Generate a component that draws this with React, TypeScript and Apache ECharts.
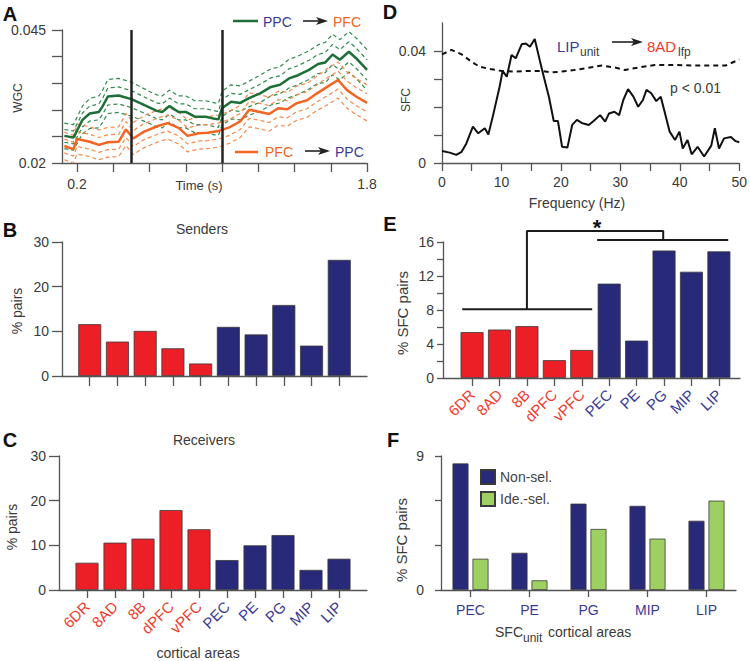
import React, { useEffect, useRef } from "react";
import * as echarts from "echarts";

const FONT = "'Liberation Sans', Arial, Helvetica, sans-serif";
const INK = "#3a3a3a";
const AXIS = "#555555";
const RED = "#ec1f26";
const BLUE = "#29297a";
const RED_TEXT = "#ef3a2b";
const BLUE_TEXT = "#3b3a96";
const GREEN = "#1d6e37";
const GREEN_DASH = "#2f8a4e";
const ORANGE = "#f26522";
const ORANGE_DASH = "#f5894a";
const LIME = "#9dd060";

// ---------- Panel A : WGC over time ----------
const greenTime = [0.13, 0.18, 0.23, 0.27, 0.32, 0.34, 0.37, 0.43, 0.5, 0.59, 0.64, 0.67, 0.71, 0.76, 0.8, 0.85, 0.91, 0.96, 0.98, 1.0, 1.05, 1.1, 1.15, 1.21, 1.27, 1.32, 1.37, 1.42, 1.48, 1.53, 1.57, 1.61, 1.65, 1.7, 1.74, 1.8];
const greenWgc = [0.0251, 0.0248, 0.0281, 0.0293, 0.0296, 0.0306, 0.0325, 0.0327, 0.032, 0.0306, 0.0298, 0.0296, 0.0307, 0.0296, 0.0296, 0.0287, 0.0287, 0.0283, 0.0282, 0.0303, 0.0315, 0.0313, 0.0322, 0.0331, 0.0343, 0.0347, 0.0359, 0.0365, 0.0375, 0.0386, 0.0389, 0.0404, 0.0394, 0.0409, 0.0397, 0.0375];
const greenSem = [0.0012, 0.0012, 0.0013, 0.0014, 0.0015, 0.0015, 0.0016, 0.0016, 0.0016, 0.0015, 0.0015, 0.0015, 0.0015, 0.0015, 0.0015, 0.0015, 0.0015, 0.0015, 0.0015, 0.0016, 0.0016, 0.0016, 0.0016, 0.0017, 0.0017, 0.0017, 0.0018, 0.0018, 0.0018, 0.0018, 0.0019, 0.0019, 0.0019, 0.0019, 0.0019, 0.0019];
const orangeTime = [0.13, 0.18, 0.2, 0.27, 0.32, 0.37, 0.43, 0.47, 0.51, 0.57, 0.65, 0.7, 0.76, 0.81, 0.87, 0.92, 0.98, 1.04, 1.1, 1.15, 1.21, 1.26, 1.31, 1.36, 1.41, 1.47, 1.52, 1.58, 1.64, 1.69, 1.74, 1.8];
const orangeWgc = [0.0232, 0.0226, 0.0245, 0.024, 0.0234, 0.0239, 0.024, 0.0263, 0.0246, 0.0259, 0.027, 0.0275, 0.0266, 0.0251, 0.0256, 0.0257, 0.026, 0.0267, 0.0278, 0.03, 0.0296, 0.0292, 0.0303, 0.0301, 0.0312, 0.0318, 0.033, 0.0343, 0.0356, 0.0337, 0.0325, 0.0313];
const orangeSem = [0.0013, 0.0013, 0.0014, 0.0014, 0.0014, 0.0014, 0.0014, 0.0015, 0.0015, 0.0015, 0.0015, 0.0015, 0.0015, 0.0015, 0.0015, 0.0015, 0.0015, 0.0015, 0.0015, 0.0016, 0.0016, 0.0016, 0.0016, 0.0016, 0.0016, 0.0016, 0.0016, 0.0017, 0.0017, 0.0017, 0.0017, 0.0017];
const cueTimes = [0.5, 1.0];
const timeTicks = [0.2, 0.4, 0.6, 0.8, 1.0, 1.2, 1.4, 1.6, 1.8];
const timeLabels = [0.2, 1.8];
const wgcTicks = [0.02, 0.025, 0.03, 0.035, 0.04, 0.045];
const wgcLabels = [0.02, 0.045];

// ---------- Panel D : SFC spectrum ----------
const sfcFreq = [0, 1.3, 2.4, 3.3, 4.1, 5.2, 6.1, 7.2, 7.8, 8.6, 9.7, 10.2, 10.9, 11.7, 12.4, 13.4, 14.1, 14.8, 15.6, 16.5, 17.4, 18, 18.8, 19.5, 20.2, 21.1, 21.9, 22.7, 23.5, 24.7, 25.5, 26.6, 27.45, 28.1, 29, 29.8, 30.5, 31.3, 32.2, 33, 33.8, 34.4, 35.2, 36.05, 36.8, 37.45, 38.3, 39.2, 39.95, 40.5, 41.3, 42, 43, 44.1, 45.3, 45.9, 46.6, 47.45, 48.6, 49.4, 50];
const sfcValue = [0.0043, 0.0037, 0.0029, 0.004, 0.007, 0.013, 0.0106, 0.0124, 0.0102, 0.0171, 0.0273, 0.0329, 0.0308, 0.0386, 0.0374, 0.0424, 0.0427, 0.0415, 0.0443, 0.0362, 0.0285, 0.0235, 0.015, 0.015, 0.0058, 0.0055, 0.0136, 0.0154, 0.0143, 0.0136, 0.015, 0.0171, 0.0148, 0.0177, 0.0183, 0.0171, 0.0225, 0.0264, 0.0237, 0.0201, 0.0225, 0.0261, 0.0249, 0.0221, 0.0237, 0.0183, 0.0112, 0.0082, 0.0112, 0.0052, 0.0082, 0.0031, 0.0058, 0.0023, 0.0062, 0.0124, 0.0052, 0.0088, 0.0093, 0.0078, 0.0074];
const sigFreq = [0, 1.6, 3.3, 4.95, 6.3, 8, 9.95, 12.2, 14.4, 16.6, 18.3, 19.95, 22.2, 24.4, 26.9, 29.1, 30.8, 33, 35.8, 39.1, 42.4, 45.8, 47.7, 49.4, 50];
const sigValue = [0.0388, 0.0404, 0.0388, 0.0362, 0.0344, 0.0336, 0.0329, 0.0326, 0.0329, 0.0329, 0.0324, 0.0326, 0.0332, 0.0339, 0.0348, 0.0341, 0.0332, 0.0341, 0.035, 0.035, 0.0348, 0.0348, 0.0348, 0.0364, 0.037];
const freqTicks = [0, 5, 10, 15, 20, 25, 30, 35, 40, 45, 50];
const freqLabels = [0, 10, 20, 30, 40, 50];
const sfcTicks = [0, 0.01, 0.02, 0.03, 0.04];
const sfcLabels = [0, 0.04];

// ---------- Panels B, C, E : cortical areas ----------
const areas = ["6DR", "8AD", "8B", "dPFC", "vPFC", "PEC", "PE", "PG", "MIP", "LIP"];
const areaLobe = ["PFC", "PFC", "PFC", "PFC", "PFC", "PPC", "PPC", "PPC", "PPC", "PPC"];
const areaPos = [1, 2, 3, 4, 5, 6, 7, 8, 9, 10];
const senders = [11.6, 7.7, 10.1, 6.2, 2.8, 11.0, 9.3, 15.9, 6.8, 26.0];
const receivers = [6.1, 10.6, 11.5, 17.9, 13.6, 6.7, 10.0, 12.3, 4.5, 7.0];
const sfcPairs = [5.4, 5.7, 6.1, 2.1, 3.3, 11.1, 4.4, 15.0, 12.5, 14.9];
const pairsTicks = [0, 10, 20, 30];
const sfcPairTicks = [0, 2, 4, 6, 8, 10, 12, 14, 16];
const sfcPairLabels = [0, 4, 8, 12, 16];
// significance bracket (area position, % SFC pairs)
const bracketPfc = [[0.64, 8.1], [5.38, 8.1]];
const bracketLink = [[3.0, 8.1], [3.0, 17.3], [7.97, 17.3], [7.97, 16.25]];
const bracketPpc = [[5.56, 16.25], [10.34, 16.25]];

// ---------- Panel F : selectivity ----------
const ppcAreas = ["PEC", "PE", "PG", "MIP", "LIP"];
const nonSel = [8.5, 2.5, 5.8, 5.65, 4.65];
const ideSel = [2.1, 0.65, 4.1, 3.45, 6.0];
const fTicks = [0, 3, 6, 9];
const fLabels = [0, 9];

const axisLine = { show: true, onZero: false, lineStyle: { color: AXIS, width: 1.3 } };
const tickStyle = { color: AXIS, width: 1.3 };

function valAxis(gridIndex: number, min: number, max: number, ticks: number[], labels: number[] | null, fmt: any, tickLen: number, margin: number) {
  return {
    type: "value",
    gridIndex,
    min,
    max,
    axisLine,
    axisTick: { show: true, customValues: ticks, length: tickLen, lineStyle: tickStyle },
    axisLabel: labels
      ? { show: true, customValues: labels, formatter: fmt, color: INK, fontSize: 14, fontFamily: FONT, margin }
      : { show: false },
    splitLine: { show: false },
  };
}

function txt(x: number, y: number, text: string, o: any = {}) {
  const align = o.align || "center";
  const valign = o.valign || "middle";
  return {
    type: "text",
    x,
    y,
    rotation: o.rotation || 0,
    silent: true,
    style: {
      text,
      fill: o.color || INK,
      fontSize: o.size || 14,
      fontFamily: FONT,
      fontWeight: o.weight || "normal",
      align,
      verticalAlign: valign,
      textAlign: align,
      textVerticalAlign: valign,
    },
  };
}

function arrow(x1: number, x2: number, y: number) {
  return [
    { type: "line", silent: true, shape: { x1, y1: y, x2: x2 - 6, y2: y }, style: { stroke: "#222", lineWidth: 1.6 } },
    { type: "polygon", silent: true, shape: { points: [[x2 - 12, y - 4], [x2, y], [x2 - 12, y + 4], [x2 - 9, y]] }, style: { fill: "#222" } },
  ];
}

const areaRich = {
  r: { color: RED_TEXT, fontSize: 15, fontFamily: FONT },
  b: { color: BLUE_TEXT, fontSize: 15, fontFamily: FONT },
};
const areaFmt = (v: number) => {
  const i = Math.round(v) - 1;
  return areaLobe[i] === "PFC" ? `{r|${areas[i]}}` : `{b|${areas[i]}}`;
};

function areaBars(xAxisIndex: number, values: number[]) {
  return {
    type: "bar",
    xAxisIndex,
    yAxisIndex: xAxisIndex,
    barWidth: 23,
    data: values.map((v, i) => ({
      value: [areaPos[i], v],
      itemStyle: { color: areaLobe[i] === "PFC" ? RED : BLUE },
    })),
    itemStyle: { borderColor: "#3a3a3a", borderWidth: 0.8 },
  };
}

function bandLine(times: number[], mean: number[], sem: number[], k: number, color: string) {
  return {
    type: "line",
    xAxisIndex: 0,
    yAxisIndex: 0,
    symbol: "none",
    silent: true,
    lineStyle: { color, width: 1.2, type: [4, 3] },
    data: times.map((t, i) => [t, mean[i] + k * sem[i]]),
  };
}

export default function App() {
  const ref = useRef<HTMLDivElement>(null);

  useEffect(() => {
    if (!ref.current) return;
    const chart = echarts.init(ref.current, null, { renderer: "svg" });

    const grid = [
      { left: 62, top: 30, width: 305, height: 133 }, // A
      { left: 442, top: 23, width: 300, height: 140 }, // D
      { left: 62, top: 242, width: 305, height: 134 }, // B
      { left: 443, top: 242, width: 297, height: 136 }, // E
      { left: 59, top: 456, width: 308, height: 134 }, // C
      { left: 441, top: 456, width: 295, height: 134 }, // F
    ];

    const rotatedAreaLabel = { show: true, customValues: areaPos, formatter: areaFmt, rich: areaRich, rotate: 45, margin: 14 };

    const xAxis: any[] = [
      valAxis(0, 0.117, 1.8, timeTicks, timeLabels, (v: number) => v.toFixed(1), 9, 14),
      valAxis(1, 0, 50, freqTicks, freqLabels, (v: number) => String(v), 8, 12),
      valAxis(2, 0, 11, areaPos, null, null, 10, 10),
      { ...valAxis(3, -0.06, 10.77, areaPos, null, null, 8, 10), axisLabel: rotatedAreaLabel },
      { ...valAxis(4, 0, 11, areaPos, null, null, 8, 10), axisLabel: rotatedAreaLabel },
      {
        type: "category",
        gridIndex: 5,
        data: ppcAreas,
        axisLine,
        axisTick: { show: true, alignWithLabel: true, length: 7, lineStyle: tickStyle },
        axisLabel: { color: BLUE_TEXT, fontSize: 14, fontFamily: FONT, margin: 13 },
        splitLine: { show: false },
      },
    ];

    const yAxis: any[] = [
      valAxis(0, 0.02, 0.045, wgcTicks, wgcLabels, (v: number) => String(v), 10, 16),
      valAxis(1, 0, 0.05, sfcTicks, sfcLabels, (v: number) => String(v), 8, 16),
      valAxis(2, 0, 30, pairsTicks, pairsTicks, (v: number) => String(v), 10, 13),
      valAxis(3, 0, 16, sfcPairTicks, sfcPairLabels, (v: number) => String(v), 6, 9),
      valAxis(4, 0, 30, pairsTicks, pairsTicks, (v: number) => String(v), 10, 13),
      valAxis(5, 0, 9, fTicks, fLabels, (v: number) => String(v), 6, 17),
    ];

    const bracketLine = (data: number[][]) => ({
      type: "line",
      xAxisIndex: 3,
      yAxisIndex: 3,
      symbol: "none",
      silent: true,
      clip: false,
      lineStyle: { color: "#1a1a1a", width: 2 },
      data,
    });

    const series: any[] = [
      bandLine(greenTime, greenWgc, greenSem, -2, GREEN_DASH),
      bandLine(greenTime, greenWgc, greenSem, -1, GREEN_DASH),
      bandLine(greenTime, greenWgc, greenSem, 1, GREEN_DASH),
      bandLine(greenTime, greenWgc, greenSem, 2, GREEN_DASH),
      bandLine(orangeTime, orangeWgc, orangeSem, -2, ORANGE_DASH),
      bandLine(orangeTime, orangeWgc, orangeSem, -1, ORANGE_DASH),
      bandLine(orangeTime, orangeWgc, orangeSem, 1, ORANGE_DASH),
      bandLine(orangeTime, orangeWgc, orangeSem, 2, ORANGE_DASH),
      {
        type: "line",
        xAxisIndex: 0,
        yAxisIndex: 0,
        symbol: "none",
        lineStyle: { color: ORANGE, width: 2.5 },
        data: orangeTime.map((t, i) => [t, orangeWgc[i]]),
      },
      {
        type: "line",
        xAxisIndex: 0,
        yAxisIndex: 0,
        symbol: "none",
        lineStyle: { color: GREEN, width: 2.5 },
        data: greenTime.map((t, i) => [t, greenWgc[i]]),
        markLine: {
          silent: true,
          symbol: ["none", "none"],
          label: { show: false },
          lineStyle: { color: "#222", width: 2.5, type: "solid" },
          data: cueTimes.map((t) => ({ xAxis: t })),
        },
      },
      {
        type: "line",
        xAxisIndex: 1,
        yAxisIndex: 1,
        symbol: "none",
        lineStyle: { color: "#111", width: 2, type: [5, 4] },
        data: sigFreq.map((f, i) => [f, sigValue[i]]),
      },
      {
        type: "line",
        xAxisIndex: 1,
        yAxisIndex: 1,
        symbol: "none",
        lineStyle: { color: "#111", width: 2 },
        data: sfcFreq.map((f, i) => [f, sfcValue[i]]),
      },
      areaBars(2, senders),
      areaBars(3, sfcPairs),
      areaBars(4, receivers),
      bracketLine(bracketPfc),
      bracketLine(bracketLink),
      bracketLine(bracketPpc),
      {
        name: "Non-sel.",
        type: "bar",
        xAxisIndex: 5,
        yAxisIndex: 5,
        barWidth: 16,
        barGap: "25%",
        itemStyle: { color: BLUE, borderColor: "#3a3a3a", borderWidth: 0.8 },
        data: nonSel,
      },
      {
        name: "Ide.-sel.",
        type: "bar",
        xAxisIndex: 5,
        yAxisIndex: 5,
        barWidth: 16,
        barGap: "25%",
        itemStyle: { color: LIME, borderColor: "#3a3a3a", borderWidth: 0.8 },
        data: ideSel,
      },
    ];

    const graphic: any[] = [
      // panel letters
      txt(10, 14, "A", { size: 20, weight: "bold", color: "#111" }),
      txt(390, 12, "D", { size: 20, weight: "bold", color: "#111" }),
      txt(10, 230, "B", { size: 20, weight: "bold", color: "#111" }),
      txt(390, 224, "E", { size: 20, weight: "bold", color: "#111" }),
      txt(10, 440, "C", { size: 20, weight: "bold", color: "#111" }),
      txt(393, 440, "F", { size: 20, weight: "bold", color: "#111" }),
      // panel A
      txt(18, 98, "WGC", { size: 12, rotation: Math.PI / 2 }),
      txt(199, 185, "Time (s)", { size: 13 }),
      { type: "line", silent: true, shape: { x1: 233, y1: 21, x2: 258, y2: 21 }, style: { stroke: GREEN, lineWidth: 2.5 } },
      txt(263, 22, "PPC", { align: "left", color: BLUE_TEXT }),
      ...arrow(303, 328, 21),
      txt(333, 22, "PFC", { align: "left", color: ORANGE }),
      { type: "line", silent: true, shape: { x1: 235, y1: 152, x2: 258, y2: 152 }, style: { stroke: ORANGE, lineWidth: 2.5 } },
      txt(265, 152, "PFC", { align: "left", color: ORANGE }),
      ...arrow(305, 330, 151),
      txt(335, 152, "PPC", { align: "left", color: BLUE_TEXT }),
      // panel D
      txt(406, 100, "SFC", { size: 12, rotation: Math.PI / 2 }),
      txt(577, 203, "Frequency (Hz)", { size: 14 }),
      txt(557, 46, "LIP", { align: "left", size: 15, color: BLUE_TEXT }),
      txt(580, 52, "unit", { align: "left", size: 12, color: INK }),
      ...arrow(612, 643, 42),
      txt(647, 46, "8AD", { align: "left", size: 15, color: RED_TEXT }),
      txt(678, 52, "lfp", { align: "left", size: 12, color: INK }),
      txt(670, 88, "p < 0.01", { align: "left", size: 14 }),
      // panel B
      txt(202, 229, "Senders", { size: 14 }),
      txt(17, 311, "% pairs", { size: 14, rotation: Math.PI / 2 }),
      // panel E
      txt(402, 313, "% SFC pairs", { size: 15, rotation: Math.PI / 2 }),
      txt(597, 227, "*", { size: 22, weight: "bold", color: "#111" }),
      // panel C
      txt(204, 440, "Receivers", { size: 14 }),
      txt(12, 527, "% pairs", { size: 14, rotation: Math.PI / 2 }),
      txt(198, 653, "cortical areas", { size: 14 }),
      // panel F
      txt(401, 540, "% SFC pairs", { size: 15, rotation: Math.PI / 2 }),
      txt(495, 632, "SFC", { align: "left", size: 14 }),
      txt(523, 638, "unit", { align: "left", size: 12 }),
      txt(548, 632, "cortical areas", { align: "left", size: 14 }),
    ];

    chart.setOption({
      animation: false,
      backgroundColor: "#ffffff",
      textStyle: { fontFamily: FONT },
      grid,
      xAxis,
      yAxis,
      series,
      legend: {
        data: ["Non-sel.", "Ide.-sel."],
        orient: "vertical",
        left: 480,
        top: 469,
        itemWidth: 14,
        itemHeight: 14,
        itemGap: 6,
        icon: "rect",
        padding: 0,
        selectedMode: false,
        textStyle: { fontSize: 14, color: "#444", fontFamily: FONT },
      },
      graphic,
    });

    return () => chart.dispose();
  }, []);

  return (
    <div
      ref={ref}
      style={{ position: "absolute", left: 0, top: 0, width: 750, height: 661, background: "#fff" }}
    />
  );
}
